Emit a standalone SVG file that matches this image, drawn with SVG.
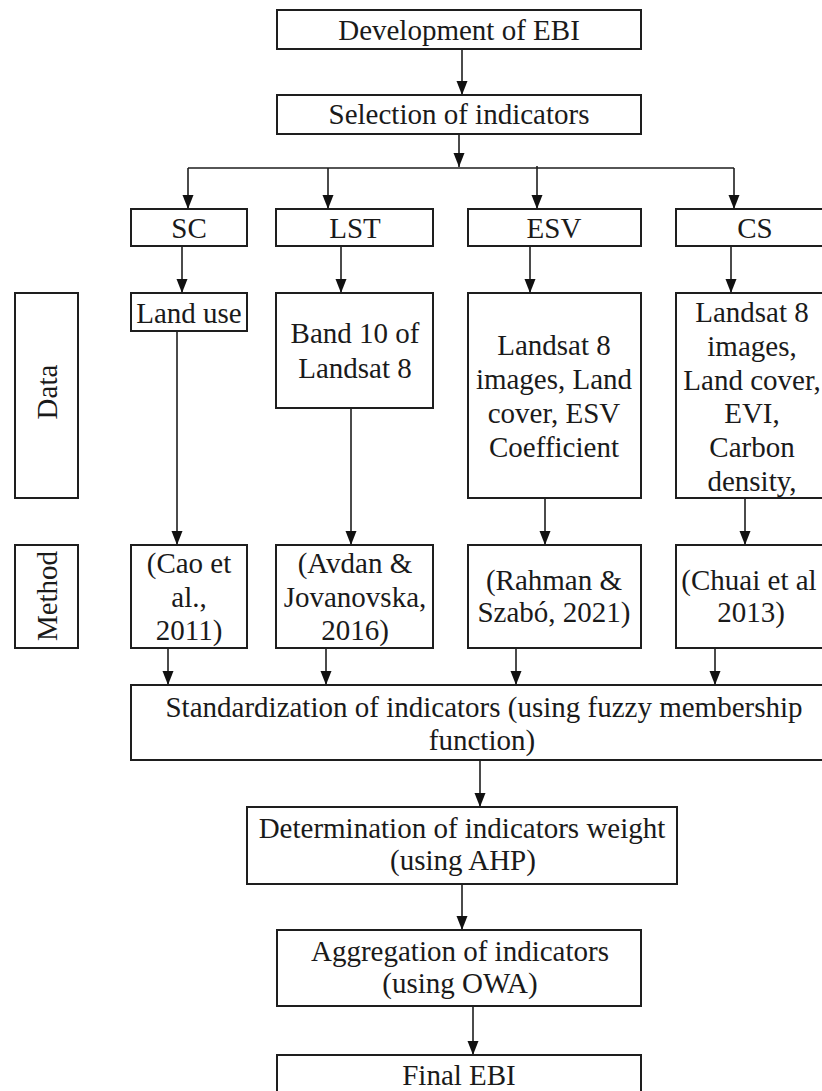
<svg xmlns="http://www.w3.org/2000/svg" width="822" height="1091" viewBox="0 0 822 1091">
<style>
.box{fill:#fff;stroke:#1e1e1e;stroke-width:2}
.t{font-family:'Liberation Serif','Times New Roman',Tinos,'DejaVu Serif',serif;font-size:29px;fill:#1a1a1a;text-anchor:middle}
.ln{stroke:#1e1e1e;stroke-width:1.6;fill:none}
</style>
<defs>
<marker id="ah" viewBox="0 -6 14 12" refX="14" refY="0" markerWidth="14" markerHeight="12" markerUnits="userSpaceOnUse" orient="auto">
<path d="M0,-5.5 L14,0 L0,5.5 z" fill="#111"/>
</marker>
</defs>
<rect width="822" height="1091" fill="#fff"/>
<g id="connectors">
<line class="ln" x1="462" y1="49" x2="462" y2="95" marker-end="url(#ah)"/>
<line class="ln" x1="459" y1="134" x2="459" y2="167" marker-end="url(#ah)"/>
<line class="ln" x1="188" y1="168" x2="734" y2="168"/>
<line class="ln" x1="188" y1="168" x2="188" y2="209" marker-end="url(#ah)"/>
<line class="ln" x1="328" y1="168" x2="328" y2="209" marker-end="url(#ah)"/>
<line class="ln" x1="537" y1="166" x2="537" y2="209" marker-end="url(#ah)"/>
<line class="ln" x1="734" y1="168" x2="734" y2="209" marker-end="url(#ah)"/>
<line class="ln" x1="182" y1="246" x2="182" y2="293" marker-end="url(#ah)"/>
<line class="ln" x1="341" y1="246" x2="341" y2="293" marker-end="url(#ah)"/>
<line class="ln" x1="530" y1="246" x2="530" y2="293" marker-end="url(#ah)"/>
<line class="ln" x1="731" y1="246" x2="731" y2="293" marker-end="url(#ah)"/>
<line class="ln" x1="177" y1="331" x2="177" y2="545" marker-end="url(#ah)"/>
<line class="ln" x1="351" y1="408" x2="351" y2="545" marker-end="url(#ah)"/>
<line class="ln" x1="545" y1="498" x2="545" y2="545" marker-end="url(#ah)"/>
<line class="ln" x1="745" y1="498" x2="745" y2="545" marker-end="url(#ah)"/>
<line class="ln" x1="168" y1="648" x2="168" y2="685" marker-end="url(#ah)"/>
<line class="ln" x1="326" y1="648" x2="326" y2="685" marker-end="url(#ah)"/>
<line class="ln" x1="516" y1="648" x2="516" y2="685" marker-end="url(#ah)"/>
<line class="ln" x1="715" y1="648" x2="715" y2="685" marker-end="url(#ah)"/>
<line class="ln" x1="480" y1="760" x2="480" y2="807" marker-end="url(#ah)"/>
<line class="ln" x1="462" y1="884" x2="462" y2="930" marker-end="url(#ah)"/>
<line class="ln" x1="473" y1="1006" x2="473" y2="1055" marker-end="url(#ah)"/>
</g>
<g id="dev"><rect class="box" x="277" y="10" width="364" height="39"/><text class="t" x="459" y="40">Development of EBI</text></g>
<g id="sel"><rect class="box" x="277" y="95" width="364" height="39"/><text class="t" x="459" y="124">Selection of indicators</text></g>
<g id="sc"><rect class="box" x="131" y="209" width="116" height="37"/><text class="t" x="189" y="238">SC</text></g>
<g id="lst"><rect class="box" x="276" y="209" width="157" height="37"/><text class="t" x="355" y="238">LST</text></g>
<g id="esv"><rect class="box" x="468" y="209" width="173" height="37"/><text class="t" x="554" y="238">ESV</text></g>
<g id="cs"><rect class="box" x="676" y="209" width="156" height="37"/><text class="t" x="755" y="238">CS</text></g>
<g id="data-label"><rect class="box" x="15" y="293" width="63" height="205"/><text class="t" transform="translate(57,392) rotate(-90)">Data</text></g>
<g id="sc-data"><rect class="box" x="131" y="293" width="116" height="38"/><text class="t" x="189" y="323">Land use</text></g>
<g id="lst-data"><rect class="box" x="276" y="293" width="157" height="115"/><text class="t" x="355" y="343">Band 10 of</text><text class="t" x="355" y="378">Landsat 8</text></g>
<g id="esv-data"><rect class="box" x="468" y="293" width="173" height="205"/><text class="t" x="554" y="355">Landsat 8</text><text class="t" x="554" y="389">images, Land</text><text class="t" x="554" y="423">cover, ESV</text><text class="t" x="554" y="457">Coefficient</text></g>
<g id="cs-data"><rect class="box" x="676" y="293" width="156" height="205"/><text class="t" x="752" y="322">Landsat 8</text><text class="t" x="752" y="356">images,</text><text class="t" x="752" y="390">Land cover,</text><text class="t" x="752" y="423">EVI,</text><text class="t" x="752" y="457">Carbon</text><text class="t" x="752" y="491">density,</text></g>
<g id="method-label"><rect class="box" x="15" y="545" width="63" height="103"/><text class="t" transform="translate(57,596) rotate(-90)">Method</text></g>
<g id="sc-method"><rect class="box" x="131" y="545" width="116" height="103"/><text class="t" x="189" y="573">(Cao et</text><text class="t" x="189" y="607">al.,</text><text class="t" x="189" y="640">2011)</text></g>
<g id="lst-method"><rect class="box" x="276" y="545" width="157" height="103"/><text class="t" x="355" y="573">(Avdan &amp;</text><text class="t" x="355" y="607">Jovanovska,</text><text class="t" x="355" y="640">2016)</text></g>
<g id="esv-method"><rect class="box" x="468" y="545" width="173" height="103"/><text class="t" x="554" y="590">(Rahman &amp;</text><text class="t" x="554" y="622">Szabó, 2021)</text></g>
<g id="cs-method"><rect class="box" x="676" y="545" width="156" height="103"/><text class="t" x="749" y="590">(Chuai et al</text><text class="t" x="751" y="622">2013)</text></g>
<g id="std"><rect class="box" x="131" y="685" width="700" height="75"/><text class="t" x="484" y="717">Standardization of indicators (using fuzzy membership</text><text class="t" x="482" y="750">function)</text></g>
<g id="det"><rect class="box" x="247" y="807" width="430" height="77"/><text class="t" x="462" y="838">Determination of indicators weight</text><text class="t" x="463" y="870">(using AHP)</text></g>
<g id="agg"><rect class="box" x="277" y="930" width="364" height="76"/><text class="t" x="460" y="961">Aggregation of indicators</text><text class="t" x="460" y="993">(using OWA)</text></g>
<g id="final"><rect class="box" x="277" y="1055" width="364" height="40"/><text class="t" x="459" y="1085">Final EBI</text></g>
</svg>
